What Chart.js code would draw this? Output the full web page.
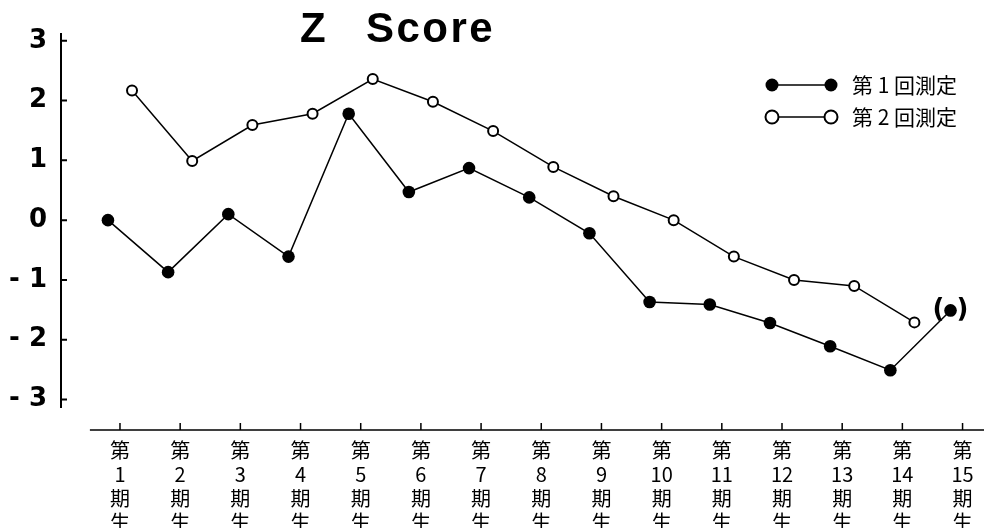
<!DOCTYPE html>
<html>
<head>
  <title>Z Score</title>
  <script src="https://cdn.jsdelivr.net/npm/chart.js"></script>
  <style>
    body {
      margin: 0;
      background-color: #fff;
    }
    .chart-box {
      position: relative;
      width: 984px;
      height: 528px;
    }
  </style>
</head>
<body>
  <div class="chart-box">
    <canvas id="zChart"></canvas>
  </div>

  <script>
    // categories along the bottom (drawn vertically)
    const categories = ['第1期生', '第2期生', '第3期生', '第4期生', '第5期生', '第6期生', '第7期生', '第8期生',
                        '第9期生', '第10期生', '第11期生', '第12期生', '第13期生', '第14期生', '第15期生'];

    const series1Label = '第 1 回測定';
    const series1 = [0.0, -0.87, 0.1, -0.61, 1.78, 0.47, 0.87, 0.38, -0.22, -1.37, -1.41, -1.72, -2.11, -2.51, -1.51];

    const series2Label = '第 2 回測定';
    const series2 = [2.17, 0.99, 1.59, 1.78, 2.36, 1.98, 1.49, 0.89, 0.40, 0.0, -0.61, -1.0, -1.1, -1.71];

    const yTicks = [3, 2, 1, 0, -1, -2, -3];

    // the two measurements sit a little left / right of each category tick
    const shift = 0.2;

    function verticalLabel(s) {
      return [s.slice(0, 1), s.slice(1, -2), s.slice(-2, -1), s.slice(-1)];
    }

    const axesAndExtras = {
      id: 'axesAndExtras',
      afterDraw(chart) {
        const ctx = chart.ctx;
        const x = chart.scales.x;
        const y = chart.scales.y;
        const area = chart.chartArea;

        ctx.save();
        ctx.strokeStyle = '#000';
        ctx.fillStyle = '#000';

        // y axis line with inward ticks
        ctx.lineWidth = 2;
        ctx.beginPath();
        ctx.moveTo(area.left, y.getPixelForValue(3.13));
        ctx.lineTo(area.left, y.getPixelForValue(-3.14));
        yTicks.forEach(v => {
          const py = y.getPixelForValue(v);
          ctx.moveTo(area.left, py);
          ctx.lineTo(area.left + 6, py);
        });
        ctx.stroke();

        // x axis line, detached, with upward ticks
        ctx.lineWidth = 1.5;
        ctx.beginPath();
        ctx.moveTo(x.getPixelForValue(0.5), area.bottom);
        ctx.lineTo(chart.width, area.bottom);
        categories.forEach((c, i) => {
          const px = x.getPixelForValue(i + 1);
          ctx.moveTo(px, area.bottom);
          ctx.lineTo(px, area.bottom - 7);
        });
        ctx.stroke();

        // title
        ctx.font = 'bold 42px "Liberation Sans"';
        ctx.letterSpacing = '2.5px';
        ctx.textBaseline = 'alphabetic';
        ctx.textAlign = 'left';
        ctx.fillText('Z', 300, 42);
        ctx.fillText('Score', 366, 42);
        ctx.letterSpacing = '0px';

        // brackets round the last 1st-measurement point
        const meta = chart.getDatasetMeta(0);
        const last = meta.data[meta.data.length - 1];
        ctx.font = 'bold 26px "DejaVu Sans"';
        ctx.textAlign = 'center';
        ctx.textBaseline = 'middle';
        ctx.fillText('(', last.x - 12, last.y);
        ctx.fillText(')', last.x + 12, last.y);

        // legend
        const rows = [85, 117];
        chart.data.datasets.forEach((ds, i) => {
          const ry = rows[i];
          ctx.lineWidth = 1.5;
          ctx.beginPath();
          ctx.moveTo(772, ry);
          ctx.lineTo(831, ry);
          ctx.stroke();
          [772, 831].forEach(cx => {
            ctx.beginPath();
            ctx.arc(cx, ry, 6.5, 0, Math.PI * 2);
            if (i === 0) {
              ctx.fill();
            } else {
              ctx.fillStyle = '#fff';
              ctx.fill();
              ctx.lineWidth = 2;
              ctx.stroke();
              ctx.fillStyle = '#000';
            }
          });
          ctx.font = '21px "Noto Sans CJK JP"';
          ctx.textAlign = 'left';
          ctx.textBaseline = 'middle';
          ctx.fillText(ds.label, 852, ry);
        });

        ctx.restore();
      }
    };

    const ctx = document.getElementById('zChart').getContext('2d');

    const chart = new Chart(ctx, {
      type: 'line',
      data: {
        datasets: [{
          label: series1Label,
          data: series1.map((v, i) => ({ x: i + 1 - shift, y: v })),
          borderColor: '#000',
          borderWidth: 1.5,
          pointRadius: 6.3,
          pointBackgroundColor: '#000',
          pointBorderWidth: 0,
          tension: 0
        }, {
          label: series2Label,
          data: series2.map((v, i) => ({ x: i + 1 + shift, y: v })),
          borderColor: '#000',
          borderWidth: 1.5,
          pointRadius: 5,
          pointBackgroundColor: '#fff',
          pointBorderColor: '#000',
          pointBorderWidth: 2,
          tension: 0
        }]
      },
      options: {
        responsive: true,
        maintainAspectRatio: false,
        animation: false,
        layout: {
          padding: { top: 33, right: 0, bottom: 0, left: 0 }
        },
        plugins: {
          legend: { display: false },
          title: { display: false },
          tooltip: { enabled: false }
        },
        scales: {
          x: {
            type: 'linear',
            min: 0.02,
            max: 15.24,
            grid: { display: false, drawTicks: false },
            border: { display: false },
            afterFit: function(scale) {
              scale.height = 98;
              scale.paddingLeft = 0;
              scale.paddingRight = 0;
            },
            afterBuildTicks: function(scale) {
              scale.ticks = categories.map((c, i) => ({ value: i + 1 }));
            },
            ticks: {
              autoSkip: false,
              maxRotation: 0,
              padding: 8,
              color: '#000',
              font: { family: '"Noto Sans CJK JP"', size: 20, lineHeight: 1.2 },
              callback: function(value) {
                return verticalLabel(categories[value - 1]);
              }
            }
          },
          y: {
            min: -3.51,
            max: 3.13,
            grid: { display: false, drawTicks: false },
            border: { display: false },
            afterFit: function(scale) {
              scale.width = 61;
              scale.paddingTop = 0;
              scale.paddingBottom = 0;
            },
            afterBuildTicks: function(scale) {
              scale.ticks = yTicks.map(v => ({ value: v }));
            },
            ticks: {
              padding: 14,
              color: '#000',
              font: { family: '"DejaVu Sans"', size: 26, weight: 'bold' },
              callback: function(value) {
                return value < 0 ? '- ' + Math.abs(value) : String(value);
              }
            }
          }
        }
      },
      plugins: [axesAndExtras]
    });
  </script>
</body>
</html>
